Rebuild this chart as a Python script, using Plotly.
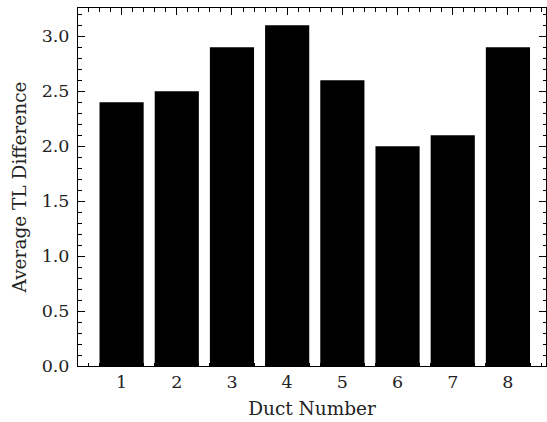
import plotly.graph_objects as go

ducts = [1, 2, 3, 4, 5, 6, 7, 8]
avg_tl_diff = [2.4, 2.5, 2.9, 3.1, 2.6, 2.0, 2.1, 2.9]
y_ticks = [0.0, 0.5, 1.0, 1.5, 2.0, 2.5, 3.0]
y_tick_text = ["0.0", "0.5", "1.0", "1.5", "2.0", "2.5", "3.0"]

FONT = "DejaVu Serif"

fig = go.Figure(go.Bar(x=ducts, y=avg_tl_diff, width=0.8,
                       marker=dict(color="black", line=dict(width=0))))

axis_common = dict(
    showline=True, linecolor="black", linewidth=1, mirror="allticks",
    ticks="inside", ticklen=7, tickwidth=1, tickcolor="black",
    showgrid=False, zeroline=False,
    tickfont=dict(family=FONT, size=17.5, color="#222"),
    title_font=dict(family=FONT, size=18.5, color="#222"),
)

fig.update_xaxes(
    **axis_common, range=[0.21, 8.69], tickmode="array", tickvals=ducts,
    ticktext=[str(d) for d in ducts],
    minor=dict(ticks="inside", dtick=0.2, tick0=0, ticklen=3.5, tickwidth=1, tickcolor="black"),
    title=dict(text="Duct Number", standoff=11),
)
fig.update_yaxes(
    **axis_common, range=[0, 3.258], tickmode="array", tickvals=y_ticks,
    ticktext=y_tick_text, ticklabelstandoff=4,
    minor=dict(ticks="inside", dtick=0.1, tick0=0, ticklen=3.5, tickwidth=1, tickcolor="black"),
    title=dict(text="Average TL Difference", standoff=10),
)

fig.update_layout(
    width=547, height=422,
    margin=dict(l=78, r=1, t=8, b=56),
    plot_bgcolor="white", paper_bgcolor="white",
    showlegend=False,
    font=dict(family=FONT, color="#222"),
)

fig.write_html("out.html")
